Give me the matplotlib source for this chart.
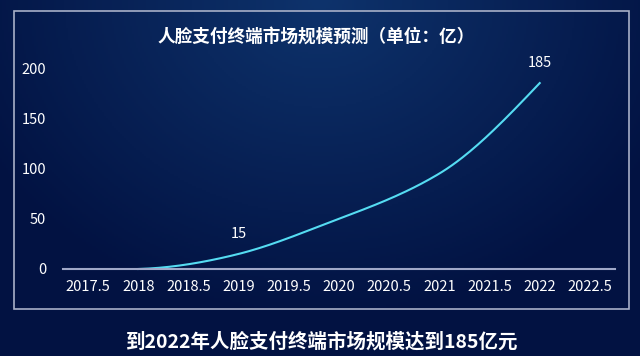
import numpy as np
import matplotlib.pyplot as plt
from matplotlib.patches import Rectangle

plt.rcParams['font.family'] = ['Noto Sans CJK SC', 'DejaVu Sans']

# data
years = [2018, 2019, 2020, 2021, 2022]
market = [0, 15, 50, 95, 185]
x_ticks = [2017.5, 2018, 2018.5, 2019, 2019.5, 2020, 2020.5, 2021, 2021.5, 2022, 2022.5]
y_ticks = [0, 50, 100, 150, 200]
labelled = {2019: 15, 2022: 185}

title = '人脸支付终端市场规模预测（单位：亿）'
caption = '到2022年人脸支付终端市场规模达到185亿元'


def convex_slopes(xs, ys):
    # tangents that keep the hermite pieces (nearly) convex
    d = np.diff(ys) / np.diff(xs)
    m = np.empty(len(ys))
    m[-2] = d[-2] + (d[-1] - d[-2]) / 3
    m[-1] = (3 * d[-1] - m[-2]) / 2
    for i in range(len(d) - 2, 0, -1):
        m[i] = min(0.5 * (d[i - 1] + d[i]), (3 * d[i] - m[i + 1]) / 2)
    m[0] = max(0.0, min(0.2 * d[0], (3 * d[0] - m[1]) / 2))
    return m


def smooth(xs, ys, n=40):
    xs = np.asarray(xs, float)
    ys = np.asarray(ys, float)
    m = convex_slopes(xs, ys)
    out_x, out_y = [], []
    for i in range(len(xs) - 1):
        t = np.linspace(0, 1, n)
        h = xs[i + 1] - xs[i]
        h00 = 2 * t**3 - 3 * t**2 + 1
        h10 = t**3 - 2 * t**2 + t
        h01 = -2 * t**3 + 3 * t**2
        h11 = t**3 - t**2
        out_x.append(xs[i] + t * h)
        out_y.append(h00 * ys[i] + h10 * h * m[i] + h01 * ys[i + 1] + h11 * h * m[i + 1])
    return np.concatenate(out_x), np.concatenate(out_y)


fig = plt.figure(figsize=(6.4, 3.56), dpi=100)

# background gradient: lighter near the top centre
bg = fig.add_axes([0, 0, 1, 1])
gx, gy = np.meshgrid(np.linspace(-1, 1, 320), np.linspace(0, 1, 178))
dist = np.clip(np.sqrt((gx / 1.2) ** 2 + (gy / 0.9) ** 2), 0, 1)
top = np.array([0x0e, 0x33, 0x6c]) / 255
low = np.array([0x02, 0x12, 0x42]) / 255
img = top[None, None, :] * (1 - dist[..., None]) + low[None, None, :] * dist[..., None]
bg.imshow(img, extent=[0, 1, 0, 1], aspect='auto', origin='upper')
bg.set_xlim(0, 1)
bg.set_ylim(0, 1)
bg.axis('off')

# frame around the chart
fig.patches.append(Rectangle((14 / 640, 1 - 309 / 356), 615 / 640, 298 / 356,
                             transform=fig.transFigure, fill=False,
                             edgecolor='#a8b0c8', linewidth=1.2))

ax = fig.add_axes([63 / 640, 1 - 269 / 356, 552 / 640, 201 / 356])
ax.patch.set_alpha(0)

cx, cy = smooth(years, market)
ax.plot(cx, cy, color='#55dcf2', linewidth=1.5, clip_on=False)

for yr, val in labelled.items():
    ax.annotate(str(val), (yr, val), xytext=(0, 14.5),
                textcoords='offset points', ha='center', va='center',
                color='white', fontsize=10.5)

ax.set_xlim(2017.25, 2022.75)
ax.set_ylim(0, 200)
ax.set_xticks(x_ticks)
ax.set_xticklabels([f'{t:g}' for t in x_ticks])
ax.set_yticks(y_ticks)
ax.tick_params(axis='both', length=0, colors='white', labelsize=10.5)
ax.tick_params(axis='x', pad=8)
ax.tick_params(axis='y', pad=12)
for s in ['top', 'right', 'left']:
    ax.spines[s].set_visible(False)
ax.spines['bottom'].set_color('#a0a8c8')
ax.spines['bottom'].set_linewidth(1.5)

fig.text(316 / 640, 1 - 37 / 356, title, ha='center', va='center',
         color='white', fontsize=12.7, fontweight='bold')
fig.text(322 / 640, 1 - 342 / 356, caption, ha='center', va='center',
         color='white', fontsize=14, fontweight='bold')

fig.savefig('out.png', dpi=100)
